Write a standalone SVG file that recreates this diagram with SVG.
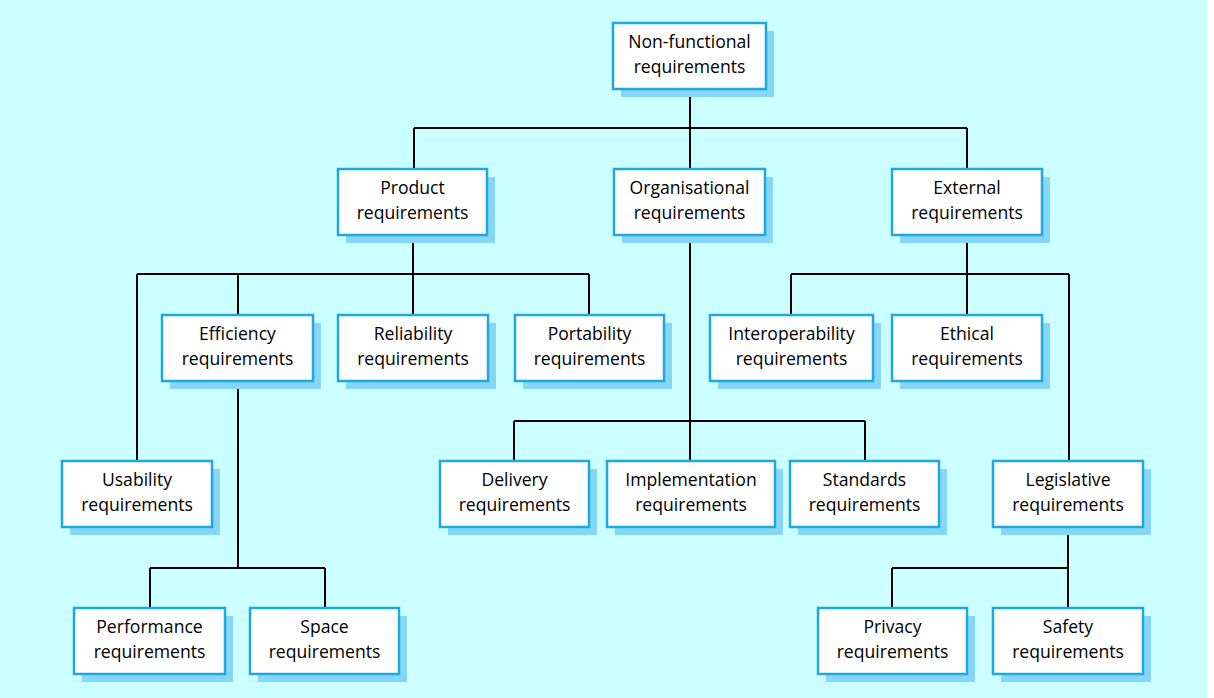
<svg xmlns="http://www.w3.org/2000/svg" width="1214" height="698" viewBox="0 0 1214 698">
<style>
.sh{fill:#86d6f5}
.bx{fill:#ffffff;stroke:#1ea8e2;stroke-width:2.5}
.t{font-family:"Open Sans","Noto Sans",sans-serif;font-size:17.6px;fill:#000;text-anchor:middle}
.c{fill:none;stroke:#000;stroke-width:2}
</style>
<rect x="0" y="0" width="1207" height="698" fill="#ccffff"/>
<g id="connectors">
<path class="c" d="M690 89V128M414 128H967M414 128V169M690 128V169M967 128V169"/>
<path class="c" d="M413 235V274M137 274H589M137 274V461M238 274V315M413 274V315M589 274V315"/>
<path class="c" d="M690 235V421M514 421H865M514 421V461M690 421V461M865 421V461"/>
<path class="c" d="M967 235V274M791 274H1069M791 274V315M967 274V315M1069 274V461"/>
<path class="c" d="M238 381V568M150 568H325M150 568V608M325 568V608"/>
<path class="c" d="M1068 527V568M892 568H1068M892 568V608M1068 568V608"/>
</g>
<g id="root"><rect class="sh" x="621" y="31" width="153" height="66"/><rect class="bx" x="613" y="23" width="153" height="66"/><text class="t" x="689.5" y="48">Non-functional</text><text class="t" x="689.5" y="73">requirements</text></g>
<g id="product"><rect class="sh" x="346" y="177" width="149" height="66"/><rect class="bx" x="338" y="169" width="149" height="66"/><text class="t" x="412.5" y="194">Product</text><text class="t" x="412.5" y="219">requirements</text></g>
<g id="organisational"><rect class="sh" x="622" y="177" width="151" height="66"/><rect class="bx" x="614" y="169" width="151" height="66"/><text class="t" x="689.5" y="194">Organisational</text><text class="t" x="689.5" y="219">requirements</text></g>
<g id="external"><rect class="sh" x="900" y="177" width="150" height="66"/><rect class="bx" x="892" y="169" width="150" height="66"/><text class="t" x="967" y="194">External</text><text class="t" x="967" y="219">requirements</text></g>
<g id="efficiency"><rect class="sh" x="170" y="323" width="151" height="66"/><rect class="bx" x="162" y="315" width="151" height="66"/><text class="t" x="237.5" y="340">Efficiency</text><text class="t" x="237.5" y="365">requirements</text></g>
<g id="reliability"><rect class="sh" x="346" y="323" width="150" height="66"/><rect class="bx" x="338" y="315" width="150" height="66"/><text class="t" x="413" y="340">Reliability</text><text class="t" x="413" y="365">requirements</text></g>
<g id="portability"><rect class="sh" x="523" y="323" width="149" height="66"/><rect class="bx" x="515" y="315" width="149" height="66"/><text class="t" x="589.5" y="340">Portability</text><text class="t" x="589.5" y="365">requirements</text></g>
<g id="interoperability"><rect class="sh" x="718" y="323" width="163" height="66"/><rect class="bx" x="710" y="315" width="163" height="66"/><text class="t" x="791.5" y="340">Interoperability</text><text class="t" x="791.5" y="365">requirements</text></g>
<g id="ethical"><rect class="sh" x="900" y="323" width="150" height="66"/><rect class="bx" x="892" y="315" width="150" height="66"/><text class="t" x="967" y="340">Ethical</text><text class="t" x="967" y="365">requirements</text></g>
<g id="usability"><rect class="sh" x="70" y="469" width="150" height="66"/><rect class="bx" x="62" y="461" width="150" height="66"/><text class="t" x="137" y="486">Usability</text><text class="t" x="137" y="511">requirements</text></g>
<g id="delivery"><rect class="sh" x="448" y="469" width="149" height="66"/><rect class="bx" x="440" y="461" width="149" height="66"/><text class="t" x="514.5" y="486">Delivery</text><text class="t" x="514.5" y="511">requirements</text></g>
<g id="implementation"><rect class="sh" x="615" y="469" width="168" height="66"/><rect class="bx" x="607" y="461" width="168" height="66"/><text class="t" x="691" y="486">Implementation</text><text class="t" x="691" y="511">requirements</text></g>
<g id="standards"><rect class="sh" x="798" y="469" width="149" height="66"/><rect class="bx" x="790" y="461" width="149" height="66"/><text class="t" x="864.5" y="486">Standards</text><text class="t" x="864.5" y="511">requirements</text></g>
<g id="legislative"><rect class="sh" x="1001" y="469" width="150" height="66"/><rect class="bx" x="993" y="461" width="150" height="66"/><text class="t" x="1068" y="486">Legislative</text><text class="t" x="1068" y="511">requirements</text></g>
<g id="performance"><rect class="sh" x="82" y="616" width="151" height="66"/><rect class="bx" x="74" y="608" width="151" height="66"/><text class="t" x="149.5" y="633">Performance</text><text class="t" x="149.5" y="658">requirements</text></g>
<g id="space"><rect class="sh" x="258" y="616" width="149" height="66"/><rect class="bx" x="250" y="608" width="149" height="66"/><text class="t" x="324.5" y="633">Space</text><text class="t" x="324.5" y="658">requirements</text></g>
<g id="privacy"><rect class="sh" x="826" y="616" width="149" height="66"/><rect class="bx" x="818" y="608" width="149" height="66"/><text class="t" x="892.5" y="633">Privacy</text><text class="t" x="892.5" y="658">requirements</text></g>
<g id="safety"><rect class="sh" x="1001" y="616" width="150" height="66"/><rect class="bx" x="993" y="608" width="150" height="66"/><text class="t" x="1068" y="633">Safety</text><text class="t" x="1068" y="658">requirements</text></g>
</svg>
